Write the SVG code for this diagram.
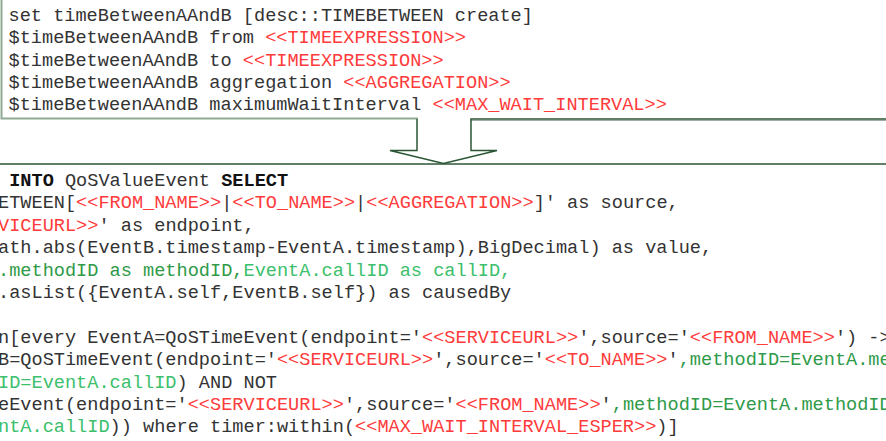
<svg xmlns="http://www.w3.org/2000/svg" width="886" height="441" viewBox="0 0 886 441">
<style>
text{font-family:"Liberation Mono","Courier New",monospace;font-size:18.6px;fill:#333;white-space:pre}
.r{fill:#ff3b3b}
.g{fill:#2f9a48}
.lg{fill:#3cc06c}
.b{font-weight:bold;fill:#111}
.frame{fill:none;stroke:#8fa995;stroke-width:2}
.arrow{fill:#fff;stroke:#2b5636;stroke-width:1.5}
</style>
<rect width="886" height="441" fill="#fff"/>
<g id="box-top">
<path class="frame" d="M1.5,-5 V118.5 H418"/>
<text x="8.5" y="21" xml:space="preserve">set timeBetweenAAndB [desc::TIMEBETWEEN create]</text>
<text x="8.5" y="43.3" xml:space="preserve">$timeBetweenAAndB from <tspan class="r">&lt;&lt;TIMEEXPRESSION&gt;&gt;</tspan></text>
<text x="8.5" y="65.6" xml:space="preserve">$timeBetweenAAndB to <tspan class="r">&lt;&lt;TIMEEXPRESSION&gt;&gt;</tspan></text>
<text x="8.5" y="87.9" xml:space="preserve">$timeBetweenAAndB aggregation <tspan class="r">&lt;&lt;AGGREGATION&gt;&gt;</tspan></text>
<text x="8.5" y="110.2" xml:space="preserve">$timeBetweenAAndB maximumWaitInterval <tspan class="r">&lt;&lt;MAX_WAIT_INTERVAL&gt;&gt;</tspan></text>
</g>
<g id="connectors">
<path d="M471,120.5 H886" stroke="#a0aca3" stroke-width="1.2" fill="none"/>
<path class="arrow" d="M417,119 V150.5 H390 L443.5,163.5 L497,150.5 H471 V119 H886"/>
</g>
<g id="box-bottom">
<path d="M0,164 H886" stroke="#2b5636" stroke-width="1.5" fill="none"/>
<text x="9.16" y="186" xml:space="preserve"><tspan class="b">INTO</tspan> QoSValueEvent <tspan class="b">SELECT</tspan></text>
<text x="-2" y="208.4" xml:space="preserve">ETWEEN[<tspan class="r">&lt;&lt;FROM_NAME&gt;&gt;</tspan>|<tspan class="r">&lt;&lt;TO_NAME&gt;&gt;</tspan>|<tspan class="r">&lt;&lt;AGGREGATION&gt;&gt;</tspan>]' as source,</text>
<text x="-2" y="230.8" xml:space="preserve"><tspan class="r">VICEURL&gt;&gt;</tspan>' as endpoint,</text>
<text x="-2" y="253.2" xml:space="preserve">ath.abs(EventB.timestamp-EventA.timestamp),BigDecimal) as value,</text>
<text x="-2" y="275.6" xml:space="preserve"><tspan class="g">.methodID as methodID,</tspan><tspan class="lg">EventA.callID as callID,</tspan></text>
<text x="-2" y="298" xml:space="preserve">.asList({EventA.self,EventB.self}) as causedBy</text>
<text x="-2" y="342.8" xml:space="preserve">n[every EventA=QoSTimeEvent(endpoint='<tspan class="r">&lt;&lt;SERVICEURL&gt;&gt;</tspan>',source='<tspan class="r">&lt;&lt;FROM_NAME&gt;&gt;</tspan>') -&gt;</text>
<text x="-2" y="365.2" xml:space="preserve">B=QoSTimeEvent(endpoint='<tspan class="r">&lt;&lt;SERVICEURL&gt;&gt;</tspan>',source='<tspan class="r">&lt;&lt;TO_NAME&gt;&gt;</tspan>'<tspan class="g">,methodID=EventA.me</tspan></text>
<text x="-2" y="387.6" xml:space="preserve"><tspan class="lg">ID=EventA.callID</tspan>) AND NOT</text>
<text x="-2" y="410" xml:space="preserve">eEvent(endpoint='<tspan class="r">&lt;&lt;SERVICEURL&gt;&gt;</tspan>',source='<tspan class="r">&lt;&lt;FROM_NAME&gt;&gt;</tspan>'<tspan class="g">,methodID=EventA.methodID</tspan></text>
<text x="-2" y="432.4" xml:space="preserve"><tspan class="lg">ntA.callID</tspan>)) where timer:within(<tspan class="r">&lt;&lt;MAX_WAIT_INTERVAL_ESPER&gt;&gt;</tspan>)]</text>
</g>
</svg>
